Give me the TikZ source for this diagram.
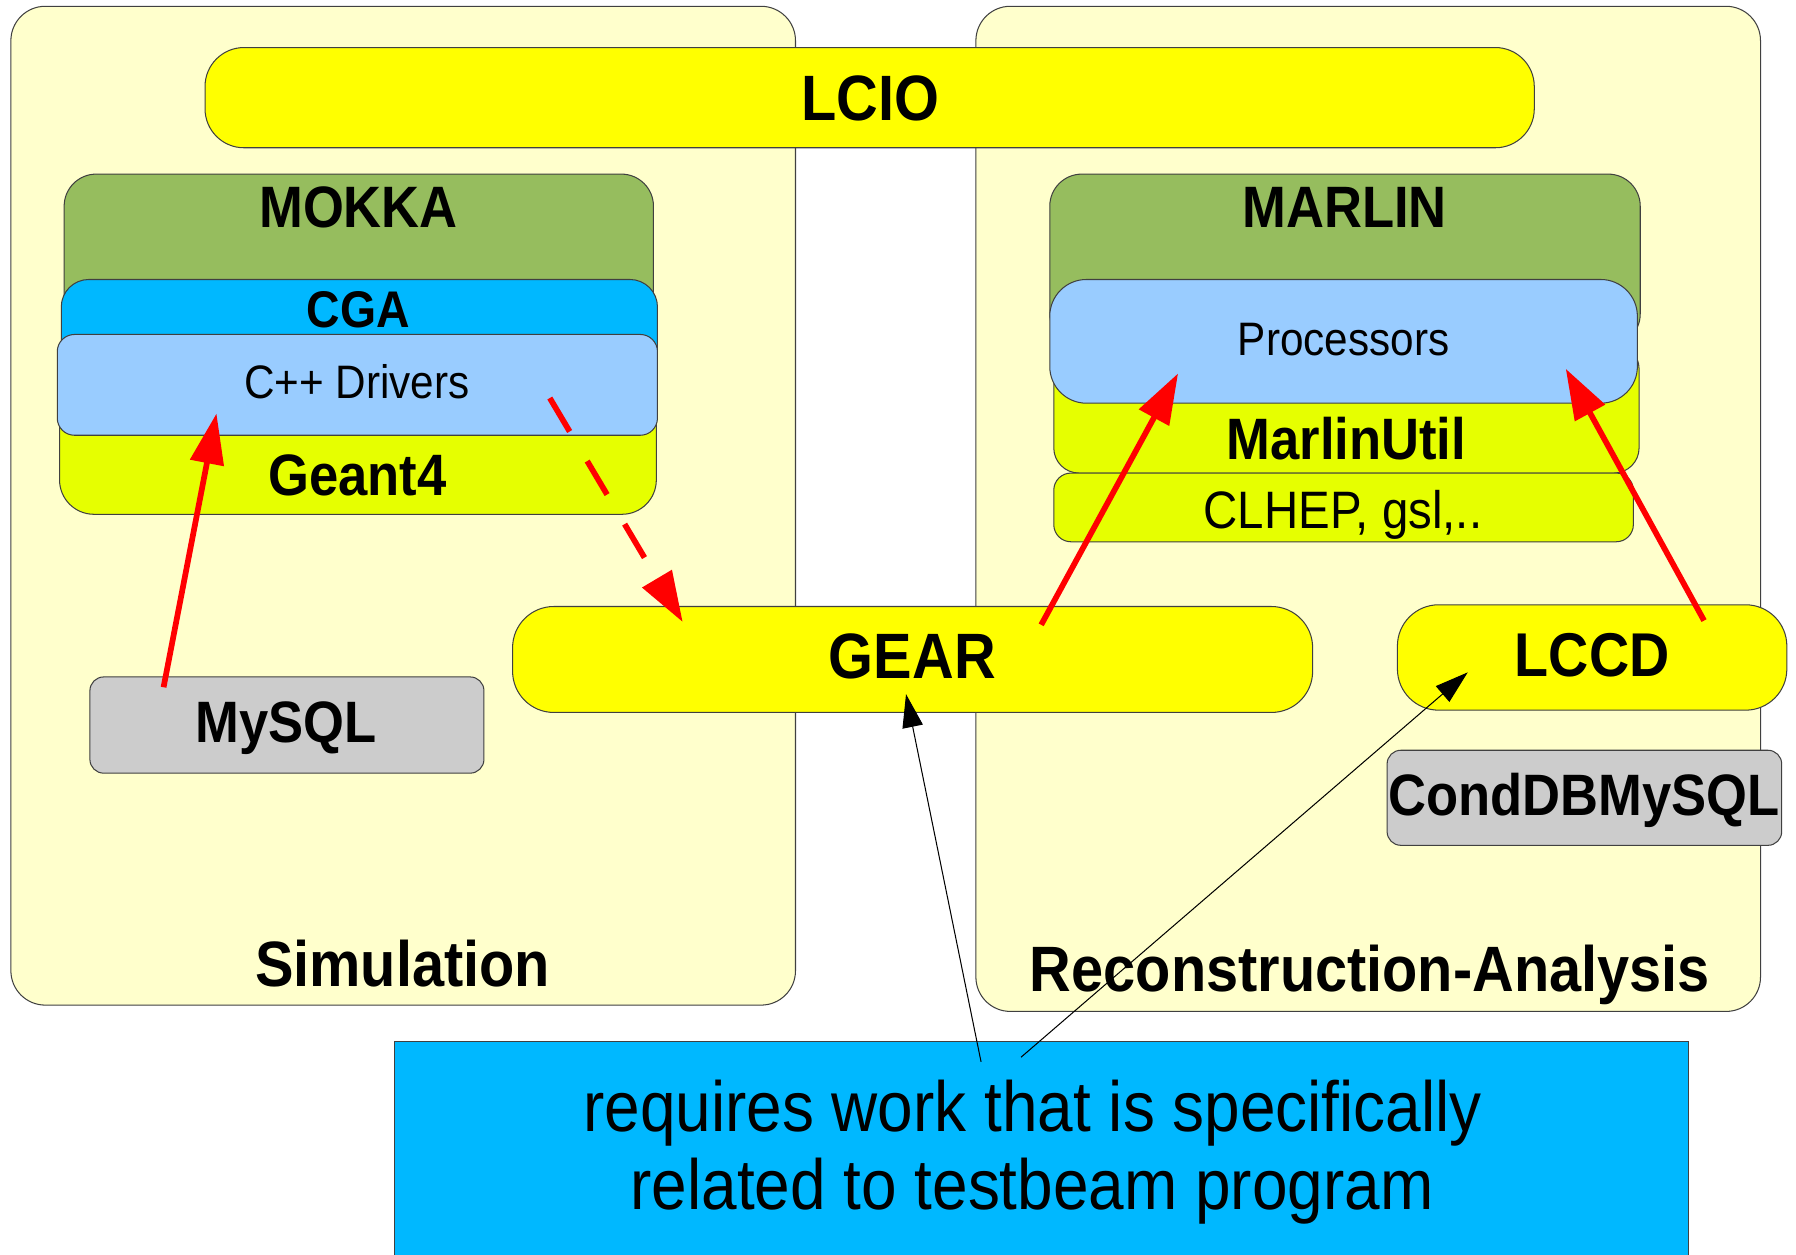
\documentclass[tikz,border=0pt]{standalone}
\usepackage{fontspec}
\setmainfont{Liberation Sans}[FakeStretch=0.9]
\usetikzlibrary{arrows.meta,calc}
\definecolor{panelc}{HTML}{FFFFCC}
\definecolor{yel}{HTML}{FFFF00}
\definecolor{grn}{RGB}{150,189,94}
\definecolor{cgab}{HTML}{00B8FF}
\definecolor{ltb}{HTML}{99CCFF}
\definecolor{ygr}{HTML}{E6FF00}
\definecolor{gry}{HTML}{CCCCCC}
\tikzset{
  box/.style={draw=black!75, line width=0.9pt, inner sep=0pt, outer sep=0pt, anchor=north west},
  lbl/.style={anchor=base, inner sep=0pt, outer sep=0pt},
  redarr/.style={draw=red, line width=5pt, -{Triangle[length=44pt,width=29pt]}},
  blkarr/.style={draw=black, line width=0.9pt, -{Triangle[length=29pt,width=18pt]}},
}
\newcommand{\fsz}[1]{\fontsize{#1}{#1}\selectfont}
\begin{document}
\begin{tikzpicture}[x=1pt,y=-1pt]
\clip (0,0) rectangle (1568,1095);
\fill[white] (0,0) rectangle (1568,1095);
% panels
\node[box, fill=panelc, rounded corners=30pt, minimum width=685pt, minimum height=872pt] (sim) at (9.5,5.5) {};
\node[box, fill=panelc, rounded corners=30pt, minimum width=685pt, minimum height=877.5pt] (reco) at (852,5.5) {};
\node[box, fill=yel, rounded corners=34pt, minimum width=1160.5pt, minimum height=87.5pt] (lcio) at (179,41.5) {};
% left stack
\node[box, fill=grn, rounded corners=28pt, minimum width=514.5pt, minimum height=150pt] (mokka) at (56,152) {};
\node[box, fill=ygr, rounded corners=30pt, minimum width=521pt, minimum height=129pt] (geant) at (52,320) {};
\node[box, fill=cgab, rounded corners=24pt, minimum width=520.5pt, minimum height=90pt] (cga) at (53.5,244) {};
\node[box, fill=ltb, rounded corners=15pt, minimum width=524pt, minimum height=88pt] (drivers) at (50,292) {};
% right stack
\node[box, fill=grn, rounded corners=28pt, minimum width=515.5pt, minimum height=150pt] (marlin) at (916.5,152) {};
\node[box, fill=ygr, rounded corners=22pt, minimum width=511pt, minimum height=113pt] (mutil) at (920,300) {};
\node[box, fill=ygr, rounded corners=15pt, minimum width=506pt, minimum height=60pt] (clhep) at (920,413) {};
\node[box, fill=ltb, rounded corners=32pt, minimum width=513pt, minimum height=108pt] (proc) at (916.5,244) {};
% others
\node[box, fill=yel, rounded corners=36pt, minimum width=698.5pt, minimum height=92.5pt] (gear) at (447.5,529.5) {};
\node[box, fill=yel, rounded corners=36pt, minimum width=340pt, minimum height=92pt] (lccd) at (1220,528) {};
\node[box, fill=gry, rounded corners=12pt, minimum width=344pt, minimum height=84pt] (mysql) at (78.5,591) {};
\node[box, fill=gry, rounded corners=12pt, minimum width=344.5pt, minimum height=83pt] (conddb) at (1211,655) {};
\node[box, fill=cgab, minimum width=1130pt, minimum height=220pt] (note) at (344,909) {};
% labels
\node[lbl, font=\fsz{56}\bfseries] (tlcio) at (760,105) {LCIO};
\node[lbl, font=\fsz{51}\bfseries] (tmokka) at (313,199) {MOKKA};
\node[lbl, font=\fsz{45}\bfseries] (tcga) at (313,286) {CGA};
\node[lbl, font=\fsz{41}] (tdrivers) at (311.5,348) {C++ Drivers};
\node[lbl, font=\fsz{51}\bfseries] (tgeant) at (312,433) {Geant4};
\node[lbl, font=\fsz{51}\bfseries] (tmarlin) at (1174,199) {MARLIN};
\node[lbl, font=\fsz{41}] (tproc) at (1173,310) {Processors};
\node[lbl, font=\fsz{51}\bfseries] (tmutil) at (1175.5,401) {MarlinUtil};
\node[lbl, font=\fsz{46}] (tclhep) at (1172.5,461) {CLHEP, gsl,..};
\node[lbl, font=\fsz{56}\bfseries] (tgear) at (796.5,592.5) {GEAR};
\node[lbl, font=\fsz{54}\bfseries] (tlccd) at (1390,591) {LCCD};
\node[lbl, font=\fsz{51}\bfseries] (tmysql) at (250,648) {MySQL};
\node[lbl, font=\fsz{51}\bfseries] (tconddb) at (1383,712) {CondDBMySQL};
\node[lbl, font=\fsz{56}\bfseries] (tsim) at (351.5,861) {Simulation};
\node[lbl, font=\fsz{56}\bfseries] (treco) at (1196,866) {Reconstruction-Analysis};
\node[lbl, font=\fsz{62}] (tnote1) at (901.5,987.5) {requires work that is specifically};
\node[lbl, font=\fsz{62}] (tnote2) at (901,1056) {related to testbeam program};
% arrows
\draw[redarr] ($(mysql.north west)+(64.3,9)$) -- ($(drivers.south west)+(139,-19)$);
\draw[redarr, dash pattern=on 34pt off 30pt] ($(drivers.south west)+(430,-32.5)$) -- ($(gear.north west)+(148.5,13.5)$);
\draw[redarr] ($(gear.north west)+(461.5,16)$) -- ($(proc.south west)+(112,-26)$);
\draw[redarr] ($(lccd.north west)+(267.7,13.8)$) -- ($(proc.south west)+(450.5,-30)$);
\draw[blkarr] ($(note.north west)+(512.5,18)$) -- ($(gear.north west)+(343.5,76.5)$);
\draw[blkarr] ($(note.north west)+(547.4,14)$) -- ($(lccd.north west)+(61.4,59)$);
\end{tikzpicture}
\end{document}
